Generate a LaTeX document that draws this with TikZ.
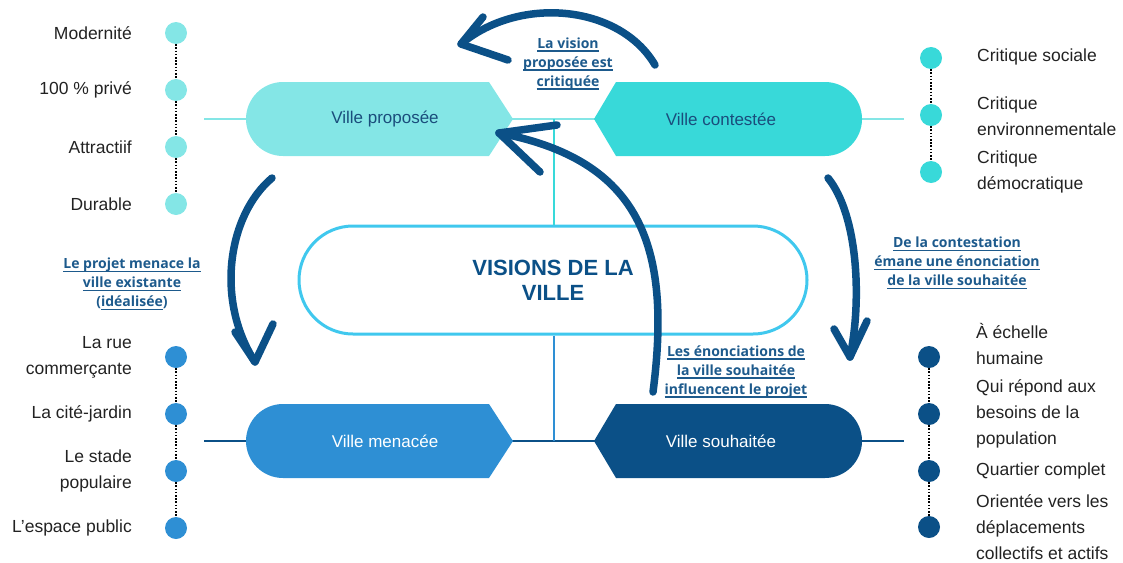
\documentclass[tikz,border=0pt]{standalone}
\usepackage{fontspec}
\setmainfont{Liberation Sans}
\newfontfamily\labfont{Open Sans}
\newcommand{\myul}[1]{\setbox0\hbox{#1}\rlap{\raisebox{-3pt}{\rule{\wd0}{1.2pt}}}\box0}
\definecolor{cA}{HTML}{84E6E6}
\definecolor{cB}{HTML}{38D9D9}
\definecolor{cC}{HTML}{2E8FD4}
\definecolor{cD}{HTML}{0B5087}
\definecolor{tdark}{HTML}{1A4D7C}
\definecolor{labc}{HTML}{1D5A8C}
\definecolor{boxc}{HTML}{40C8EE}
\definecolor{listc}{HTML}{222222}
\begin{document}
\begin{tikzpicture}[x=1pt,y=-1pt,
  listtxt/.style={font=\fontsize{17.5}{26}\selectfont, text=listc, inner sep=0pt},
  ltxt/.style={listtxt, anchor=east, align=right},
  rtxt/.style={listtxt, anchor=west, align=left},
  dotA/.style={circle, inner sep=0pt, minimum size=22pt, fill=#1},
  dotline/.style={draw=black, line width=1.6pt, dash pattern=on 1.6pt off 1.6pt},
  lab/.style={font=\labfont\bfseries\fontsize{14}{19}\selectfont, text=labc, align=center, inner sep=0pt},
  boxtxt/.style={font=\fontsize{17}{20}\selectfont, inner sep=0pt},
  bigarrow/.style={draw=cD, line width=7.5pt, line cap=round, line join=round},
  conn/.style={line width=2.5pt}
]
\useasboundingbox (0,0) rectangle (1123,562);

% connector lines
\coordinate (tls) at (204,119);
\coordinate (trs) at (904,119);
\coordinate (bls) at (204,441);
\coordinate (brs) at (904,441);
\coordinate (tmid) at (554,119);
\coordinate (bmid) at (554,441);
\draw[conn, draw=cA] (tls) -- (trs);
\draw[conn, draw=cD] (bls) -- (brs);

% central box
\node[draw=boxc, line width=3pt, rounded corners=54pt, minimum width=508pt, minimum height=108pt, fill=white,
      font=\bfseries\fontsize{22}{25}\selectfont, text=cD, align=center] (vis) at (553,280) {VISIONS DE LA\\VILLE};
\draw[conn, draw=cB] (tmid) -- (tmid |- vis.north);
\draw[conn, draw=cC] (bmid |- vis.south) -- (bmid);

% shapes
\fill[cA] (489,82) -- (513,119) -- (489,156) -- (283,156) arc[start angle=90, end angle=270, radius=37] -- cycle;
\fill[cB] (616,82) -- (594,119) -- (616,156) -- (825,156) arc[start angle=90, end angle=-90, radius=37] -- cycle;
\fill[cC] (489,404) -- (513,441) -- (489,478) -- (283,478) arc[start angle=90, end angle=270, radius=37] -- cycle;
\fill[cD] (616,404) -- (594,441) -- (616,478) -- (825,478) arc[start angle=90, end angle=-90, radius=37] -- cycle;
\node[boxtxt, text=tdark] (vp) at (385,119) {Ville proposée};
\node[boxtxt, text=tdark] (vc) at (721,119) {Ville contestée};
\node[boxtxt, text=white] (vm) at (385,441) {Ville menacée};
\node[boxtxt, text=white] (vs) at (721,441) {Ville souhaitée};

% top-left list
\node[dotA=cA] (a1) at (176,33) {};
\node[dotA=cA] (a2) at (176,90) {};
\node[dotA=cA] (a3) at (176,147) {};
\node[dotA=cA] (a4) at (176,204) {};
\draw[dotline] (a1.south) -- (a2.north);
\draw[dotline] (a2.south) -- (a3.north);
\draw[dotline] (a3.south) -- (a4.north);
\node[ltxt] (ta1) at (132,33) {Modernité};
\node[ltxt] (ta2) at (132,90) {100 \% privé};
\node[ltxt] (ta3) at (132,147) {Attractiif};
\node[ltxt] (ta4) at (132,204) {Durable};

% top-right list
\node[dotA=cB] (b1) at (931,58) {};
\node[dotA=cB] (b2) at (931,115) {};
\node[dotA=cB] (b3) at (931,172) {};
\draw[dotline] (b1.south) -- (b2.north);
\draw[dotline] (b2.south) -- (b3.north);
\node[rtxt] (tb1) at (977,57) {Critique sociale};
\node[rtxt] (tb2) at (977,116) {Critique\\environnementale};
\node[rtxt] (tb3) at (977,172) {Critique\\démocratique};

% bottom-left list
\node[dotA=cC] (c1) at (176,357) {};
\node[dotA=cC] (c2) at (176,414) {};
\node[dotA=cC] (c3) at (176,471) {};
\node[dotA=cC] (c4) at (176,528) {};
\draw[dotline] (c1.south) -- (c2.north);
\draw[dotline] (c2.south) -- (c3.north);
\draw[dotline] (c3.south) -- (c4.north);
\node[ltxt] (tc1) at (132,357) {La rue\\commerçante};
\node[ltxt] (tc2) at (132,414) {La cité-jardin};
\node[ltxt] (tc3) at (132,471) {Le stade\\populaire};
\node[ltxt] (tc4) at (132,528) {L{\char39}espace public};

% bottom-right list
\node[dotA=cD] (d1) at (929,357) {};
\node[dotA=cD] (d2) at (929,414) {};
\node[dotA=cD] (d3) at (929,471) {};
\node[dotA=cD] (d4) at (929,527) {};
\draw[dotline] (d1.south) -- (d2.north);
\draw[dotline] (d2.south) -- (d3.north);
\draw[dotline] (d3.south) -- (d4.north);
\node[rtxt] (td1) at (976,344) {À échelle\\humaine};
\node[rtxt] (td2) at (976,414) {Qui répond aux\\besoins de la\\population};
\node[rtxt] (td3) at (976,471) {Quartier complet};
\node[rtxt] (td4) at (976,527) {Orientée vers les\\déplacements\\collectifs et actifs};

% labels
\node[lab] (l1) at (568,64) {\myul{La vision}\\\myul{proposée est}\\\myul{critiquée}};
\node[lab] (l2) at (132,284) {\myul{Le projet menace la}\\\myul{ville existante}\\(\myul{idéalisée})};
\node[lab] (l3) at (957,263) {\myul{De la contestation}\\\myul{émane une énonciation}\\\myul{de la ville souhaitée}};
\node[lab] (l4) at (736,372) {\myul{Les énonciations de}\\\myul{la ville souhaitée}\\\myul{influencent le projet}};

% arrows
\coordinate (a1t) at (655,65);
\coordinate (a1h) at (461,44);
\draw[bigarrow] (a1t) .. controls (620,5) and (520,-5) .. (a1h);
\draw[bigarrow] (483,17) -- (a1h) -- (508,60);

\coordinate (a2t) at (272,178);
\coordinate (a2h) at (255,362);
\draw[bigarrow] (a2t) .. controls (228,215) and (215,300) .. (a2h);
\draw[bigarrow] (235,332) -- (a2h) -- (273,324);

\coordinate (a3t) at (828,178);
\coordinate (a3h) at (850,357);
\draw[bigarrow] (a3t) .. controls (858,215) and (862,300) .. (a3h);
\draw[bigarrow] (834,329) -- (a3h) -- (867,321);

\coordinate (a4t) at (653,392);
\coordinate (a4h) at (499,133);
\draw[bigarrow] (a4t) .. controls (672,245) and (640,160) .. (a4h);
\draw[bigarrow] (557,125) -- (a4h) -- (540,172);
\end{tikzpicture}
\end{document}
